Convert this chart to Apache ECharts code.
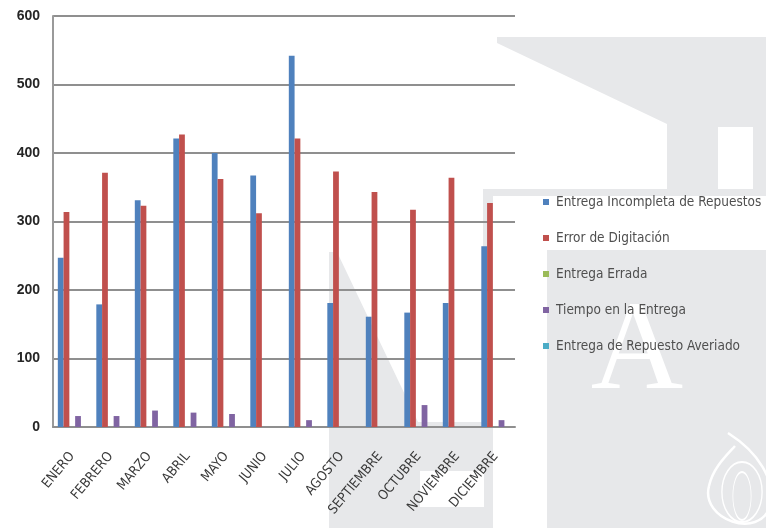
<!DOCTYPE html>
<html>
<head>
<meta charset="utf-8">
<script src="https://cdn.jsdelivr.net/npm/echarts@6/dist/echarts.min.js"></script>
<style>
  html, body { margin: 0; padding: 0; background: #ffffff; }
  #chart { width: 766px; height: 528px; }
</style>
</head>
<body>
<div id="chart"></div>
<script>
// Monthly incident counts by category
const months = ['ENERO', 'FEBRERO', 'MARZO', 'ABRIL', 'MAYO', 'JUNIO', 'JULIO', 'AGOSTO', 'SEPTIEMBRE', 'OCTUBRE', 'NOVIEMBRE', 'DICIEMBRE'];
const seriesNames = ['Entrega Incompleta de Repuestos', 'Error de Digitación', 'Entrega Errada', 'Tiempo en la Entrega', 'Entrega de Repuesto Averiado'];
const entregaIncompleta = [247, 179, 331, 421, 400, 367, 542, 181, 161, 167, 181, 264];
const errorDigitacion = [314, 371, 323, 427, 362, 312, 421, 373, 343, 317, 364, 327];
const entregaErrada = [0, 0, 0, 0, 0, 0, 0, 0, 0, 0, 0, 0];
const tiempoEntrega = [16, 16, 24, 21, 19, 0, 10, 0, 0, 32, 0, 10];
const repuestoAveriado = [0, 0, 0, 0, 0, 0, 0, 0, 0, 0, 0, 0];
const yTicks = [0, 100, 200, 300, 400, 500, 600];

const seriesValues = [entregaIncompleta, errorDigitacion, entregaErrada, tiempoEntrega, repuestoAveriado];
const palette = ['#4F81BD', '#C0504D', '#9BBB59', '#8064A2', '#4BACC6'];
const narrow = '"Liberation Sans Narrow", "DejaVu Sans Condensed", "Liberation Sans", sans-serif';
const wmGrey = '#e7e8ea';
const white = '#ffffff';

const chart = echarts.init(document.getElementById('chart'), null, { renderer: 'canvas' });

// Light background emblem behind the plot
const emblem = [
  { type: 'polygon', z: -10, shape: { points: [[497, 37], [766, 37], [766, 196], [483, 196], [483, 189], [667, 189], [667, 124], [497, 43]] }, style: { fill: wmGrey } },
  { type: 'rect', z: -9, shape: { x: 718, y: 127, width: 35, height: 62 }, style: { fill: white } },
  { type: 'rect', z: -10, shape: { x: 483, y: 196, width: 10, height: 332 }, style: { fill: wmGrey } },
  { type: 'rect', z: -10, shape: { x: 547, y: 250, width: 219, height: 278 }, style: { fill: wmGrey } },
  { type: 'polygon', z: -10, shape: { points: [[329, 252], [337, 252], [418, 422], [493, 422], [493, 528], [329, 528]] }, style: { fill: wmGrey } },
  { type: 'rect', z: -9, shape: { x: 420, y: 471, width: 64, height: 36 }, style: { fill: white } },
  { type: 'text', z: -8, style: { text: 'A', x: 637, y: 418, fill: white, font: '128px "Liberation Serif", "DejaVu Serif", serif', textAlign: 'center', textVerticalAlign: 'bottom' } },
  { type: 'bezierCurve', z: -8, shape: { x1: 728, y1: 433, x2: 770, y2: 506, cpx1: 758, cpy1: 452, cpx2: 776, cpy2: 480 }, style: { fill: 'none', stroke: white, lineWidth: 2.5 } },
  { type: 'bezierCurve', z: -8, shape: { x1: 770, y1: 506, x2: 709, y2: 486, cpx1: 760, cpy1: 540, cpx2: 700, cpy2: 520 }, style: { fill: 'none', stroke: white, lineWidth: 2.5 } },
  { type: 'bezierCurve', z: -8, shape: { x1: 709, y1: 486, x2: 735, y2: 446, cpx1: 713, cpy1: 468, cpx2: 726, cpy2: 456 }, style: { fill: 'none', stroke: white, lineWidth: 2.5 } },
  { type: 'circle', z: -8, x: 742, y: 492, scaleX: 0.67, scaleY: 1, shape: { cx: 0, cy: 0, r: 30 }, style: { fill: 'none', stroke: white, lineWidth: 2 } },
  { type: 'circle', z: -8, x: 742, y: 496, scaleX: 0.38, scaleY: 1, shape: { cx: 0, cy: 0, r: 24 }, style: { fill: 'none', stroke: white, lineWidth: 2 } }
];

chart.setOption({
  backgroundColor: white,
  animation: false,
  color: palette,
  graphic: { elements: emblem },
  grid: { left: 53, right: 251, top: 16, bottom: 101, containLabel: false },
  legend: {
    orient: 'vertical',
    left: 538,
    top: 189,
    itemWidth: 6,
    itemHeight: 6,
    itemGap: 20,
    icon: 'rect',
    data: seriesNames,
    textStyle: { color: '#4f4f4f', fontSize: 13.5, fontFamily: narrow, lineHeight: 16, padding: [0, 0, 0, 2] }
  },
  xAxis: {
    type: 'category',
    data: months,
    axisLine: { show: true, lineStyle: { color: '#8f8f8f', width: 2 } },
    axisTick: { show: false },
    axisLabel: { rotate: 50, margin: 27, color: '#3a3a3a', fontSize: 13.5, fontFamily: narrow, interval: 0 }
  },
  yAxis: {
    type: 'value',
    min: yTicks[0],
    max: yTicks[yTicks.length - 1],
    interval: yTicks[1] - yTicks[0],
    axisLine: { show: true, lineStyle: { color: '#9a9a9a', width: 2 } },
    axisTick: { show: false },
    axisLabel: { color: '#262626', fontSize: 14, fontWeight: 'bold', fontFamily: '"Liberation Sans", Arial, sans-serif', margin: 13 },
    splitLine: { show: true, lineStyle: { color: '#8f8f8f', width: 2 } }
  },
  series: seriesNames.map((name, i) => ({
    name: name,
    type: 'bar',
    data: seriesValues[i],
    barGap: '0%',
    barCategoryGap: '25%',
    itemStyle: { color: palette[i] }
  }))
});
</script>
</body>
</html>
